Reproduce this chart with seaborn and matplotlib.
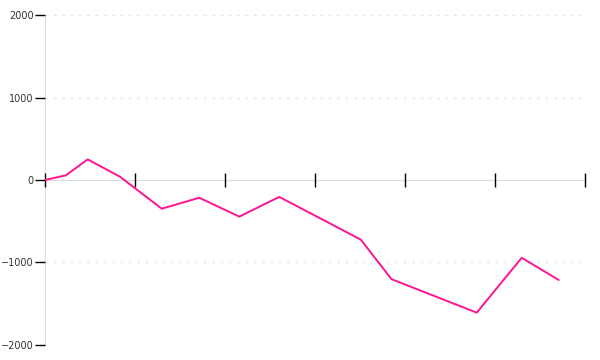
import matplotlib
matplotlib.use("Agg")
import matplotlib.pyplot as plt
import seaborn as sns
import pandas as pd

# x positions in tick units (ticks at 0..6)
x_pos = [0, 0.233, 0.474, 0.833, 1.297, 1.714, 2.159, 2.603, 3.508, 3.85, 4.797, 5.297, 5.708]
values = [0, 57, 250, 40, -348, -215, -444, -205, -722, -1202, -1608, -943, -1212]
y_ticks = [-2000, -1000, 0, 1000, 2000]
x_ticks = [0, 1, 2, 3, 4, 5, 6]

sns.set_style("white")
plt.rcParams['font.family'] = ['DejaVu Sans']

df = pd.DataFrame({"x": x_pos, "y": values})

fig = plt.figure(figsize=(6, 3.6), dpi=100)
ax = fig.add_axes([0.075, 0.0417, 0.9, 0.9166])

for v in y_ticks:
    if v != 0:
        ax.axhline(v, color="#e6e6e6", lw=1, dashes=(2, 4), zorder=0)

sns.lineplot(data=df, x="x", y="y", ax=ax, color="#ff1493", lw=1.4, zorder=3)

ax.set_xlim(0, 6)
ax.set_ylim(-2000, 2000)
ax.set_xticks(x_ticks)
ax.set_xticklabels([])
ax.set_yticks(y_ticks)
ax.set_yticklabels([str(v).replace("-", "\u2212") for v in y_ticks])
ax.set_xlabel("")
ax.set_ylabel("")

for s in ["top", "right"]:
    ax.spines[s].set_visible(False)
ax.spines["bottom"].set_position(("data", 0))
ax.spines["bottom"].set_color("#dddddd")
ax.spines["left"].set_color("#dddddd")
ax.spines["bottom"].set_zorder(0.5)
ax.spines["left"].set_zorder(0.5)

ax.tick_params(axis="y", direction="out", length=7, width=1, color="black",
               labelsize=7, labelcolor="#333333", pad=1, left=True)
ax.tick_params(axis="x", direction="inout", length=10, width=1, color="black", bottom=True)

fig.savefig("out.png", dpi=100)
